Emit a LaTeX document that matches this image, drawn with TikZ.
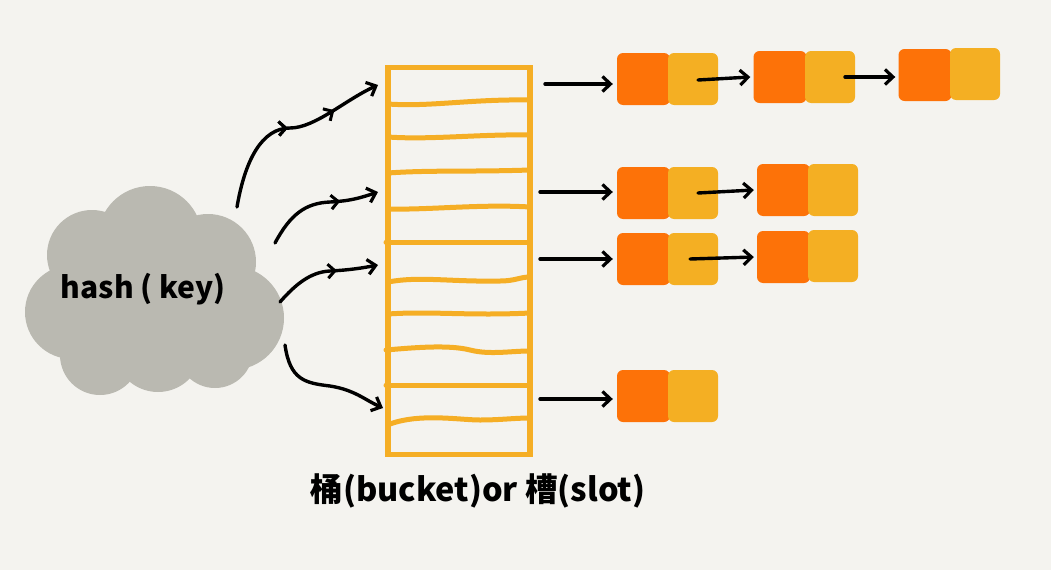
\documentclass[tikz,border=0pt]{standalone}
\usepackage{fontspec}
\setmainfont{Noto Sans CJK SC}
\usetikzlibrary{arrows.meta,decorations.markings}
\definecolor{bg}{HTML}{F4F3EF}
\definecolor{cloudgray}{HTML}{BAB9B1}
\definecolor{nodeor}{HTML}{FD7208}
\definecolor{nodeye}{HTML}{F4AF23}
\definecolor{arrline}{HTML}{F5AE25}
\tikzset{
  hand/.style={line width=3.4pt, line cap=round, -{Straight Barb[length=8pt,width=15pt,line width=3.2pt]}},
  midtip/.style={postaction={decorate}, decoration={markings, mark=at position #1 with {\arrow{Straight Barb[length=7pt,width=14pt,line width=3pt]}}}},
  ocell/.style={fill=nodeor, rounded corners=6pt, minimum width=53pt, minimum height=52pt, inner sep=0pt},
  ycell/.style={fill=nodeye, rounded corners=6pt, minimum width=50pt, minimum height=52pt, inner sep=0pt},
  slotline/.style={draw=arrline, line width=5pt, line cap=round},
}
\begin{document}
\begin{tikzpicture}[x=1pt,y=-1pt]
\useasboundingbox (0,0) rectangle (1051,570);
\fill[bg] (0,0) rectangle (1051,570);

% cloud
\begin{scope}[fill=cloudgray]
\fill (150,238) circle (52);
\fill (92,255) circle (45);
\fill (208,262) circle (48);
\fill (232,318) circle (52);
\fill (72,312) circle (47);
\fill (100,355) circle (40);
\fill (158,348) circle (44);
\fill (215,350) circle (38);
\fill (150,300) circle (80);
\end{scope}
\node[font=\fontsize{30}{34}\selectfont\bfseries, inner sep=0pt] (cloud) at (143,289) {hash ( key)};

% bucket array
\node[draw=arrline, line width=5.5pt, minimum width=142pt, minimum height=387pt, inner sep=0pt] (arr) at (459,261) {};
\draw[slotline] (388,104) .. controls (430,107) and (470,99) .. (530,100);
\draw[slotline] (388,137) .. controls (430,140) and (480,134) .. (530,135);
\draw[slotline] (388,173) .. controls (430,170) and (470,172) .. (530,170);
\draw[slotline] (388,209) .. controls (430,210) and (480,204) .. (530,207);
\draw[slotline] (386,242) -- (530,242);
\draw[slotline] (388,282) .. controls (420,276) and (450,282) .. (500,281) .. controls (515,281) and (520,277) .. (530,277);
\draw[slotline] (388,314) .. controls (430,311) and (470,316) .. (530,313);
\draw[slotline] (386,350) .. controls (420,347) and (450,345) .. (470,350) .. controls (490,355) and (510,351) .. (530,351);
\draw[slotline] (386,385) -- (530,385);
\draw[slotline] (390,424) .. controls (420,413) and (460,420) .. (480,420) .. controls (500,420) and (515,418) .. (530,418);

% coordinates for cloud arrows
\coordinate (c1) at (237,207);
\coordinate (c2) at (275,243);
\coordinate (c3) at (280,302);
\coordinate (c4) at (285,345);
\coordinate (e1) at (378,85);
\coordinate (e2) at (378,192);
\coordinate (e3) at (378,265);
\coordinate (e4) at (383,408);

\draw[hand, midtip=0.5, postaction={decorate, decoration={markings, mark=at position 0.75 with {\arrow{Straight Barb[length=7pt,width=14pt,line width=3pt]}}}}]
  (c1) .. controls (245,160) and (262,128) .. (290,128) .. controls (315,128) and (345,100) .. (e1);
\draw[hand, midtip=0.68] (c2) .. controls (290,215) and (305,203) .. (330,202) .. controls (350,201) and (360,198) .. (e2);
\draw[hand, midtip=0.62] (c3) .. controls (295,285) and (310,272) .. (330,271) .. controls (350,270) and (362,268) .. (e3);
\draw[hand] (c4) .. controls (290,380) and (305,383) .. (330,386) .. controls (355,390) and (365,400) .. (e4);

% linked lists
\node[ocell] (o11) at (643.5,79) {};
\node[ycell] (y11) at (693,79) {};
\node[ocell] (o12) at (780,77) {};
\node[ycell] (y12) at (830,77) {};
\node[ocell] (o13) at (925,75) {};
\node[ycell] (y13) at (975,74) {};

\node[ocell] (o21) at (643.5,193) {};
\node[ycell] (y21) at (693,193) {};
\node[ocell] (o22) at (783.5,190) {};
\node[ycell] (y22) at (833,190) {};

\node[ocell] (o31) at (643.5,259) {};
\node[ycell] (y31) at (693,259) {};
\node[ocell] (o32) at (783.5,257) {};
\node[ycell] (y32) at (833,256) {};

\node[ocell] (o41) at (643.5,396) {};
\node[ycell] (y41) at (693,396) {};

% arrows from array to lists
\coordinate (s1) at (545,84);
\coordinate (s2) at (540,192);
\coordinate (s3) at (540,259);
\coordinate (s4) at (540,399);
\draw[hand, shorten >=4pt] (s1) -- (s1 -| o11.west);
\draw[hand, shorten >=4pt] (s2) -- (s2 -| o21.west);
\draw[hand, shorten >=4pt] (s3) -- (s3 -| o31.west);
\draw[hand, shorten >=4pt] (s4) -- (s4 -| o41.west);

% arrows between list nodes
\draw[hand] ([xshift=5pt,yshift=-1pt]y11.center) -- ([xshift=-3pt,yshift=0pt]o12.west);
\draw[hand] ([xshift=15pt]y12.center) -- ([xshift=-3pt,yshift=-2pt]o13.west);
\draw[hand] ([xshift=5pt]y21.center) -- ([xshift=-3pt]o22.west);
\draw[hand] ([xshift=-3pt]y31.center) -- ([xshift=-3pt]o32.west);

% caption
\node[font=\fontsize{32.5}{37}\selectfont\bfseries, inner sep=0pt] (cap) at (478,491) {桶(bucket)or 槽(slot)};
\end{tikzpicture}
\end{document}
